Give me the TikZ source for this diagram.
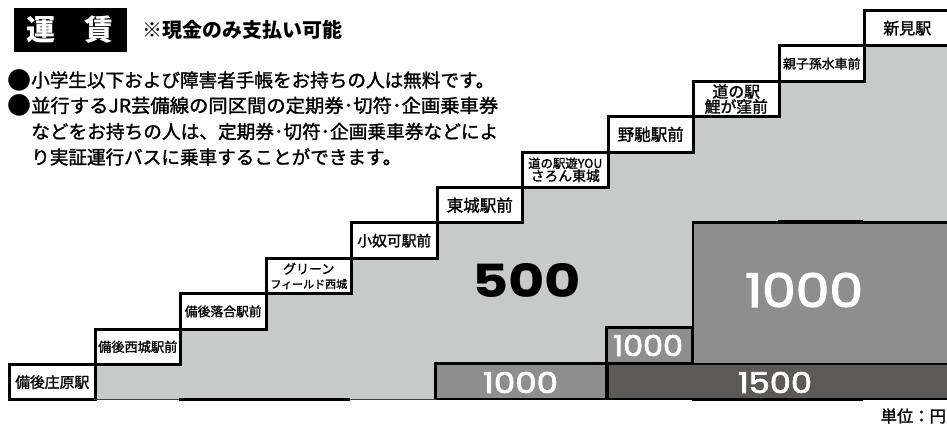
\documentclass[tikz,border=0pt]{standalone}
\usepackage{fontspec}
\usepackage{graphicx}
\setmainfont{Noto Sans CJK JP}
\newfontfamily\jpm[FakeBold=1.5]{Noto Sans CJK JP}
\newfontfamily\numfont{Poppins}
\newfontfamily\numfontw[FakeBold=2.5]{Poppins}
\newcommand\jfs[2]{\fontsize{#1pt}{#2pt}\selectfont}
\definecolor{lightgray}{HTML}{C8C9C9}
\definecolor{midgray}{HTML}{8E8E8E}
\definecolor{darkgray}{HTML}{5B5A59}
\tikzset{
  stbox/.style={draw=black, line width=3pt, fill=white, minimum width=85.5pt,
    minimum height=35.4pt, inner sep=0pt, anchor=north west, align=center},
  band/.style={draw=black, line width=2.2pt, inner sep=0pt},
  numtxt/.style={inner sep=0pt, text=white},
  jtxt/.style={inner sep=0pt, anchor=west},
}
\begin{document}
\begin{tikzpicture}[x=1pt,y=-1pt]
\useasboundingbox (0,0) rectangle (947,427);
\clip (0,0) rectangle (947,427);

% title
\node[fill=black, minimum width=113.4pt, minimum height=44pt, inner sep=0pt, anchor=north west] (titlebox) at (13.3,8.3) {};
\node[inner sep=0pt, text=white, font=\jfs{29}{29}\bfseries] (unchin1) at (40.5,29.5) {運};
\node[inner sep=0pt, text=white, font=\jfs{29}{29}\bfseries] (unchin2) at (98.5,29.5) {賃};
\node[jtxt, font=\jfs{20}{20}\bfseries] (cashonly) at (142,30) {※現金のみ支払い可能};

% notes
\node[inner sep=0pt, font=\jfs{24}{24}] (b1) at (19,80) {●};
\node[inner sep=0pt, font=\jfs{24}{24}] (b2) at (19,105.5) {●};
\node[jtxt, font=\jfs{18.6}{18.6}\jpm] (l1) at (31,80) {小学生以下および障害者手帳をお持ちの人は無料です。};
\node[jtxt, font=\jfs{18.6}{18.6}\jpm] (l2) at (31,105.5) {\resizebox{467pt}{\height}{並行するJR芸備線の同区間の定期券･切符･企画乗車券}};
\node[jtxt, font=\jfs{18.6}{18.6}\jpm] (l3) at (31,131.5) {\resizebox{467pt}{\height}{などをお持ちの人は、定期券･切符･企画乗車券などによ}};
\node[jtxt, font=\jfs{18.6}{18.6}\jpm] (l4) at (31,157) {り実証運行バスに乗車することができます。};

% gray staircase area
\fill[lightgray] (93.5,399) -- (93.5,363) -- (179,363) -- (179,327.6) -- (264.5,327.6)
  -- (264.5,292.2) -- (350,292.2) -- (350,256.8) -- (435.5,256.8) -- (435.5,221.4)
  -- (521,221.4) -- (521,186) -- (606.5,186) -- (606.5,150.6) -- (692,150.6)
  -- (692,115.2) -- (777.5,115.2) -- (777.5,79.8) -- (863,79.8) -- (863,44.4)
  -- (955,44.4) -- (955,399) -- cycle;

% fare bands
\node[band, fill=midgray, minimum width=171pt, minimum height=35.6pt] (fareA) at (521,381.2) {};
\node[band, fill=darkgray, minimum width=348.5pt, minimum height=35.6pt, anchor=west] (fareB) at (606.5,381.2) {};
\node[band, fill=midgray, minimum width=85.5pt, minimum height=35.4pt] (fareC) at (649.25,345.3) {};
\node[band, fill=midgray, minimum width=263pt, minimum height=141.6pt, anchor=north west] (fareD) at (692,221.4) {};

% stations
\node[stbox, font=\jfs{14.8}{16}\jpm] (s0) at (8,363) {備後庄原駅};
\node[stbox, font=\jfs{13.2}{14}\jpm] (s1) at (93.5,327.6) {備後西城駅前};
\node[stbox, font=\jfs{12.8}{14}\jpm] (s2) at (179,292.2) {備後落合駅前};
\node[stbox, font=\jfs{13}{14.5}\jpm] (s3) at (264.5,256.8) {グリーン\\{\jfs{11}{14.5}\jpm フィールド西城}};
\node[stbox, font=\jfs{14.8}{16}\jpm] (s4) at (350,221.4) {小奴可駅前};
\node[stbox, font=\jfs{16.5}{18}\jpm] (s5) at (435.5,186) {東城駅前};
\node[stbox, font=\jfs{12.4}{13}\jpm] (s6) at (521,150.6) {道の駅遊YOU\\{\jfs{13.8}{13}\jpm さろん東城}};
\node[stbox, font=\jfs{16.5}{18}\jpm] (s7) at (606.5,115.2) {野馳駅前};
\node[stbox, font=\jfs{15.8}{15}\jpm] (s8) at (692,79.8) {道の駅\\鯉が窪前};
\node[stbox, font=\jfs{12.9}{14}\jpm] (s9) at (777.5,44.4) {親子孫水車前};
\node[stbox, font=\jfs{16}{18}\jpm, minimum width=100pt] (s10) at (863,9) {\hspace*{-14.5pt}新見駅};

% bottom line
\draw[line width=1pt, black!75] (93.5,399) -- (435.5,399);
\draw[line width=3pt] (179,399) -- (350,399);
\draw[line width=3pt] (692,399) -- (863,399);
\draw[line width=3pt] (777.5,221.4) -- (863,221.4);

% fares
\node[numtxt, text=black] (n500) at (526.5,280) {\resizebox{109pt}{34pt}{\numfont\bfseries 500}};
\node[numtxt] (n1000big) at (804,290) {\resizebox{118pt}{34pt}{\numfontw 1000}};
\node[numtxt] (n1000s) at (648,345.5) {\resizebox{70pt}{21pt}{\numfontw 1000}};
\node[numtxt] (n1000b) at (520.5,382.5) {\resizebox{75pt}{21pt}{\numfontw 1000}};
\node[numtxt] (n1500) at (775,382.5) {\resizebox{74pt}{21pt}{\numfontw 1500}};

\node[jtxt, font=\jfs{16.3}{16.3}\jpm] (unit) at (880.5,416) {単位：円};
\end{tikzpicture}
\end{document}
